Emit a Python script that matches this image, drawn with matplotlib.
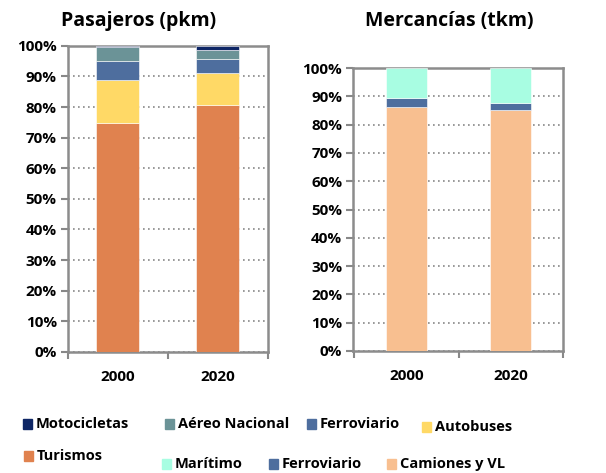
import matplotlib.pyplot as plt
from matplotlib.patches import Rectangle
from matplotlib.ticker import PercentFormatter

plt.rcParams['font.family'] = ['Open Sans', 'DejaVu Sans']
plt.rcParams['font.weight'] = 'bold'

years = ["2000", "2020"]

# pasajeros (% pkm)
turismos = [74.9, 80.7]
autobuses = [14.0, 10.5]
ferro_p = [6.3, 4.6]
aereo = [4.3, 2.9]
motos = [0.5, 1.3]

# mercancias (% tkm)
camiones = [86.1, 85.3]
ferro_m = [3.5, 2.5]
maritimo = [10.4, 12.2]

c_moto = "#0e2665"
c_aereo = "#6b9397"
c_ferro = "#4e6e9e"
c_bus = "#ffd966"
c_tur = "#e0824f"
c_mar = "#a8fde2"
c_cam = "#f8bf90"

fig = plt.figure(figsize=(6.06, 4.73), dpi=100)
ax1 = fig.add_axes([0.112, 0.256, 0.330, 0.647])
ax2 = fig.add_axes([0.583, 0.258, 0.346, 0.598])


def stack(ax, x, series, colors, width):
    bottom = [0, 0]
    for vals, col in zip(series, colors):
        ax.bar(x, vals, width, bottom=bottom, color=col, zorder=3,
               edgecolor="white", linewidth=0.4)
        bottom = [b + v for b, v in zip(bottom, vals)]


stack(ax1, [0, 1], [turismos, autobuses, ferro_p, aereo, motos],
      [c_tur, c_bus, c_ferro, c_aereo, c_moto], 0.43)
ax1.set_xlim(-0.5, 1.5)

stack(ax2, [0, 1], [camiones, ferro_m, maritimo], [c_cam, c_ferro, c_mar], 0.39)
ax2.set_xlim(-0.51, 1.49)

for ax in (ax1, ax2):
    ax.set_ylim(0, 100)
    ax.set_yticks(range(0, 101, 10))
    ax.yaxis.set_major_formatter(PercentFormatter(decimals=0))
    ax.set_xticks([0, 1])
    ax.set_xticklabels(years)
    ax.set_xticks([-0.5, 0.5, 1.5], minor=True)
    ax.tick_params(axis="x", which="major", length=0, pad=13, labelsize=11)
    ax.tick_params(axis="x", which="minor", length=5, color="#888888", width=1.5)
    ax.tick_params(axis="y", length=5, color="#888888", width=1.5, labelsize=11, pad=3)
    ax.grid(axis="y", linestyle=(0, (1, 2)), color="#888888", linewidth=1.2, zorder=0)
    for s in ax.spines.values():
        s.set_color("#8c8c8c")
        s.set_linewidth(1.8)
    for lab in ax.get_xticklabels() + ax.get_yticklabels():
        lab.set_fontweight("bold")

fig.text(0.229, 0.955, "Pasajeros (pkm)", ha="center", va="center", fontsize=14, fontweight="bold")
fig.text(0.742, 0.955, "Mercancías (tkm)", ha="center", va="center", fontsize=14, fontweight="bold")

legend_items = [
    ("Motocicletas", c_moto, 23, 424),
    ("Aéreo Nacional", c_aereo, 165, 424),
    ("Ferroviario", c_ferro, 307, 424),
    ("Autobuses", c_bus, 422, 427),
    ("Turismos", c_tur, 24, 456),
    ("Marítimo", c_mar, 162, 464),
    ("Ferroviario", c_ferro, 269, 464),
    ("Camiones y VL", c_cam, 387, 464),
]
W, H = 606, 473
for name, col, px, py in legend_items:
    fig.patches.append(Rectangle((px / W, 1 - (py + 5) / H), 9 / W, 10 / H,
                                 color=col, transform=fig.transFigure, figure=fig))
    fig.text((px + 13) / W, 1 - py / H, name, ha="left", va="center",
             fontsize=10.5, fontweight="bold")

fig.savefig("out.png", dpi=100)
